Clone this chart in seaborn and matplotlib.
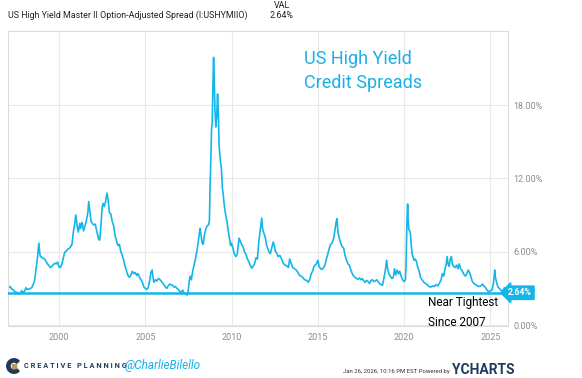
import numpy as np
import pandas as pd
import matplotlib
matplotlib.use("Agg")
import matplotlib.pyplot as plt
import matplotlib.transforms as mtransforms
from matplotlib.patches import Wedge, Rectangle
import seaborn as sns

# ICE BofA US High Yield OAS (decimal year, %)
years = [
    1997.00, 1997.08, 1997.17, 1997.25, 1997.33, 1997.42, 1997.50, 1997.58, 1997.67, 1997.75, 1997.83, 1997.92,
    1998.00, 1998.08, 1998.17, 1998.25, 1998.33, 1998.42, 1998.50, 1998.58, 1998.67, 1998.75, 1998.83, 1998.88, 1998.92,
    1999.00, 1999.08, 1999.17, 1999.25, 1999.33, 1999.42, 1999.50, 1999.58, 1999.67, 1999.75, 1999.83, 1999.92,
    2000.00, 2000.08, 2000.17, 2000.25, 2000.33, 2000.42, 2000.50, 2000.58, 2000.67, 2000.75, 2000.83, 2000.92, 2000.97,
    2001.05, 2001.12, 2001.20, 2001.25, 2001.33, 2001.42, 2001.50, 2001.58, 2001.67, 2001.72, 2001.78, 2001.85, 2001.92,
    2002.00, 2002.10, 2002.20, 2002.30, 2002.36, 2002.42, 2002.50, 2002.55, 2002.62, 2002.70, 2002.78, 2002.84, 2002.92,
    2003.00, 2003.08, 2003.17, 2003.25, 2003.33, 2003.42, 2003.50, 2003.58, 2003.67, 2003.75, 2003.83, 2003.92,
    2004.00, 2004.08, 2004.17, 2004.25, 2004.33, 2004.42, 2004.50, 2004.58, 2004.67, 2004.75, 2004.83, 2004.92,
    2005.00, 2005.08, 2005.17, 2005.25, 2005.33, 2005.40, 2005.45, 2005.50, 2005.58, 2005.67, 2005.75, 2005.83, 2005.92,
    2006.00, 2006.08, 2006.17, 2006.25, 2006.33, 2006.42, 2006.50, 2006.58, 2006.67, 2006.75, 2006.83, 2006.92,
    2007.00, 2007.08, 2007.17, 2007.25, 2007.33, 2007.42, 2007.48, 2007.55, 2007.60, 2007.67, 2007.75, 2007.83, 2007.92,
    2008.00, 2008.08, 2008.17, 2008.22, 2008.30, 2008.36, 2008.42, 2008.50, 2008.58, 2008.67, 2008.72, 2008.75, 2008.80,
    2008.84, 2008.88, 2008.92, 2008.96,
    2009.00, 2009.04, 2009.09, 2009.14, 2009.19, 2009.24, 2009.28, 2009.35, 2009.42, 2009.47, 2009.51, 2009.58, 2009.65,
    2009.72, 2009.80, 2009.87, 2009.95,
    2010.00, 2010.08, 2010.17, 2010.25, 2010.33, 2010.40, 2010.44, 2010.50, 2010.58, 2010.67, 2010.75, 2010.83, 2010.92,
    2011.00, 2011.08, 2011.17, 2011.25, 2011.33, 2011.42, 2011.50, 2011.58, 2011.64, 2011.70, 2011.75, 2011.80, 2011.88, 2011.95,
    2012.04, 2012.12, 2012.20, 2012.25, 2012.33, 2012.42, 2012.48, 2012.55, 2012.62, 2012.70, 2012.80, 2012.90,
    2013.00, 2013.10, 2013.20, 2013.30, 2013.37, 2013.45, 2013.55, 2013.65, 2013.75, 2013.85, 2013.95,
    2014.05, 2014.15, 2014.25, 2014.35, 2014.46, 2014.55, 2014.62, 2014.70, 2014.78, 2014.85, 2014.92,
    2015.00, 2015.08, 2015.17, 2015.25, 2015.33, 2015.42, 2015.50, 2015.58, 2015.67, 2015.75, 2015.83, 2015.92,
    2016.00, 2016.06, 2016.11, 2016.17, 2016.25, 2016.33, 2016.42, 2016.50, 2016.58, 2016.67, 2016.75, 2016.83, 2016.92,
    2017.00, 2017.08, 2017.17, 2017.25, 2017.33, 2017.42, 2017.50, 2017.58, 2017.67, 2017.75, 2017.83, 2017.92,
    2018.00, 2018.08, 2018.17, 2018.25, 2018.33, 2018.42, 2018.50, 2018.58, 2018.67, 2018.75, 2018.83, 2018.92, 2018.99,
    2019.05, 2019.12, 2019.20, 2019.30, 2019.38, 2019.45, 2019.52, 2019.60, 2019.68, 2019.75, 2019.83, 2019.92,
    2020.00, 2020.08, 2020.12, 2020.17, 2020.21, 2020.24, 2020.28, 2020.33, 2020.38, 2020.42, 2020.47, 2020.52, 2020.58,
    2020.65, 2020.72, 2020.80, 2020.88, 2020.95,
    2021.05, 2021.15, 2021.25, 2021.35, 2021.45, 2021.55, 2021.65, 2021.75, 2021.85, 2021.95,
    2022.05, 2022.15, 2022.22, 2022.30, 2022.38, 2022.45, 2022.50, 2022.55, 2022.62, 2022.68, 2022.75, 2022.80, 2022.87, 2022.95,
    2023.05, 2023.12, 2023.20, 2023.28, 2023.35, 2023.45, 2023.55, 2023.65, 2023.72, 2023.80, 2023.88, 2023.95,
    2024.05, 2024.15, 2024.25, 2024.35, 2024.45, 2024.55, 2024.62, 2024.70, 2024.80, 2024.90,
    2025.00, 2025.10, 2025.18, 2025.26, 2025.30, 2025.38, 2025.45, 2025.55, 2025.65, 2025.75, 2025.82, 2025.90, 2025.98,
    2026.06,
]
spread = [
    3.20, 3.05, 3.15, 2.95, 2.90, 2.75, 2.70, 2.65, 2.55, 2.60, 2.80, 2.70,
    2.75, 3.05, 2.90, 2.95, 3.00, 3.05, 3.30, 3.60, 4.60, 5.50, 6.70, 5.90, 5.60,
    5.55, 5.45, 5.40, 5.20, 5.00, 4.85, 4.70, 4.80, 4.95, 5.05, 5.00, 5.15,
    4.75, 4.70, 5.00, 5.50, 5.95, 6.05, 6.20, 6.25, 6.40, 6.60, 7.60, 8.40, 9.00,
    8.10, 7.60, 8.30, 7.90, 8.40, 7.70, 8.10, 8.50, 9.20, 10.10, 9.40, 8.50, 8.35,
    8.20, 8.25, 7.60, 7.00, 6.95, 8.00, 9.60, 9.95, 9.70, 10.10, 10.80, 10.30, 9.20,
    9.10, 8.50, 8.10, 7.30, 6.90, 6.50, 6.60, 6.00, 5.70, 5.30, 4.80, 4.40,
    4.05, 3.90, 4.10, 4.40, 4.20, 4.30, 4.05, 4.20, 3.90, 3.70, 3.50, 3.10,
    3.00, 2.90, 3.05, 3.60, 4.30, 4.50, 3.90, 3.50, 3.70, 3.60, 3.80, 3.75, 3.60,
    3.45, 3.30, 3.10, 3.00, 3.20, 3.35, 3.30, 3.25, 3.10, 3.15, 3.00, 2.90,
    2.75, 2.65, 2.85, 2.60, 2.55, 2.45, 2.70, 3.60, 4.00, 3.70, 4.40, 4.90, 5.50,
    6.10, 6.90, 7.90, 7.50, 6.70, 6.60, 7.30, 7.80, 8.10, 8.20, 8.60, 11.00, 13.50,
    16.00, 16.50, 19.50, 21.90,
    20.00, 17.50, 16.20, 17.00, 18.90, 17.20, 14.60, 13.50, 12.70, 11.20, 10.80, 9.80, 9.10,
    8.60, 7.80, 7.20, 6.50,
    6.70, 6.30, 5.80, 5.60, 5.80, 6.60, 7.10, 6.90, 6.60, 6.40, 6.00, 5.80, 5.40,
    5.20, 4.90, 4.65, 4.80, 5.00, 5.50, 5.40, 6.80, 7.50, 8.20, 8.75, 7.90, 7.50, 7.20,
    6.50, 6.20, 5.90, 5.85, 6.30, 6.80, 6.50, 6.00, 5.90, 5.60, 5.70, 5.40,
    5.05, 4.90, 4.85, 4.70, 5.40, 5.10, 4.70, 4.60, 4.50, 4.30, 4.05,
    4.00, 3.85, 3.70, 3.65, 3.50, 3.80, 4.20, 4.40, 4.80, 4.90, 5.00,
    5.30, 4.80, 4.60, 4.55, 4.70, 4.90, 5.40, 5.80, 6.30, 6.60, 6.70, 7.10,
    7.80, 8.40, 8.70, 7.60, 7.10, 6.70, 6.40, 6.30, 5.70, 5.30, 5.00, 4.90, 4.50,
    4.20, 4.00, 3.90, 3.80, 3.75, 3.85, 3.70, 3.80, 3.60, 3.50, 3.65, 3.55,
    3.40, 3.65, 3.70, 3.55, 3.60, 3.70, 3.55, 3.40, 3.30, 3.25, 3.80, 4.50, 5.30,
    4.60, 4.20, 4.00, 3.80, 3.90, 4.60, 4.10, 4.50, 4.20, 4.40, 4.00, 3.70,
    3.55, 3.70, 5.00, 8.50, 9.90, 8.60, 7.80, 7.70, 7.40, 6.50, 5.80, 5.60, 5.30,
    5.40, 5.20, 4.70, 4.40, 3.90,
    3.70, 3.50, 3.40, 3.30, 3.15, 3.10, 3.20, 3.15, 3.30, 3.20,
    3.40, 3.70, 4.20, 4.00, 4.60, 5.00, 5.60, 5.00, 4.80, 5.40, 5.60, 5.00, 4.80, 4.70,
    4.90, 4.60, 5.00, 4.60, 4.50, 4.20, 4.00, 4.20, 4.50, 4.30, 3.95, 3.60,
    3.40, 3.30, 3.20, 3.15, 3.20, 3.35, 3.20, 3.10, 2.90, 2.70,
    2.80, 2.85, 3.40, 4.50, 3.90, 3.40, 3.10, 2.95, 2.80, 2.85, 3.05, 2.85, 2.75,
    2.64,
]
last_val = 2.64
x_ticks = [2000, 2005, 2010, 2015, 2020, 2025]
y_ticks = [0, 6, 12, 18]
y_ticklabels = ["0.00%", "6.00%", "12.00%", "18.00%"]

LINE = "#14B6EA"
GRID = "#E8E8E8"
TICK = "#8C8C8C"
NAVY = "#1F3A5C"

sns.set_theme(style="white")
plt.rcParams["font.family"] = ["Roboto", "DejaVu Sans"]

df = pd.DataFrame({"year": years, "spread": spread})

fig = plt.figure(figsize=(5.82, 3.78), dpi=100)
ax = fig.add_axes([0.0137, 0.1376, 0.8592, 0.7804])

sns.lineplot(data=df, x="year", y="spread", ax=ax, color=LINE, linewidth=1.2)
ax.axhline(last_val, color=LINE, linewidth=1.8, zorder=3)

ax.set_xlim(1997.04, 2026.03)
ax.set_ylim(-0.08, 24.06)
ax.set_xticks(x_ticks)
ax.set_xticklabels([str(t) for t in x_ticks])
ax.set_yticks(y_ticks)
ax.set_yticklabels(y_ticklabels)
ax.yaxis.tick_right()
ax.tick_params(axis="both", length=0, labelsize=6.5, labelcolor=TICK, pad=5)
ax.tick_params(axis="y", pad=4)
ax.grid(True, color=GRID, linewidth=0.8)
ax.set_xlabel("")
ax.set_ylabel("")
for s in ax.spines.values():
    s.set_color("#DCDCDC")
    s.set_linewidth(0.8)

# last value tag
trans = mtransforms.blended_transform_factory(ax.transAxes, ax.transData)
ax.text(1.0, last_val, "2.64%", transform=trans, ha="left", va="center",
        fontsize=6.3, fontweight="bold", color="white", clip_on=False,
        bbox=dict(boxstyle="larrow,pad=0.25", fc=LINE, ec=LINE))

# handwritten annotations
ax.text(0.592, 0.905, "US High Yield", transform=ax.transAxes, fontsize=13,
        color="#1AAFE6", ha="left", va="center")
ax.text(0.592, 0.825, "Credit Spreads", transform=ax.transAxes, fontsize=13,
        color="#1AAFE6", ha="left", va="center")
ax.text(0.84, 0.078, "Near Tightest", transform=ax.transAxes, fontsize=8.5,
        color="black", ha="left", va="center")
ax.text(0.84, 0.012, "Since 2007", transform=ax.transAxes, fontsize=8.5,
        color="black", ha="left", va="center")

# header
fig.text(8 / 582, 1 - 15 / 378, "US High Yield Master II Option-Adjusted Spread (I:USHYMIIO)",
         fontsize=6.4, color="#222222", ha="left", va="center")
fig.text(290 / 582, 1 - 5 / 378, "VAL", fontsize=6.4, color="#222222", ha="right", va="center")
fig.text(293 / 582, 1 - 15 / 378, "2.64%", fontsize=6.4, color="#222222", ha="right", va="center")

# footer: logo + handles
lax = fig.add_axes([6 / 582, 1 - 374 / 378, 16 / 582, 16 / 378])
lax.set_xlim(-1.1, 1.1)
lax.set_ylim(-1.1, 1.1)
lax.set_aspect("equal")
lax.axis("off")
lax.add_patch(Wedge((0, 0), 1.0, 45, 315, width=0.45, color=NAVY))
lax.add_patch(Rectangle((-0.25, -0.25), 0.5, 0.5, color="#B9975B"))
fig.text(24 / 582, 1 - 366 / 378, "C R E A T I V E   P L A N N I N G", fontsize=5.3,
         fontweight="bold", color=NAVY, ha="left", va="center")
fig.text(125 / 582, 1 - 366 / 378, "@CharlieBilello", fontsize=8.5, color="#1AAFE6",
         ha="left", va="center", style="italic")
fig.text(450 / 582, 1 - 372 / 378, "Jan 26, 2026, 10:16 PM EST Powered by", fontsize=4.3,
         color="#333333", ha="right", va="center")
fig.text(452 / 582, 1 - 370 / 378, "YCHARTS", fontsize=10, fontweight="bold",
         color=NAVY, ha="left", va="center")

fig.savefig("out.png", dpi=100)
